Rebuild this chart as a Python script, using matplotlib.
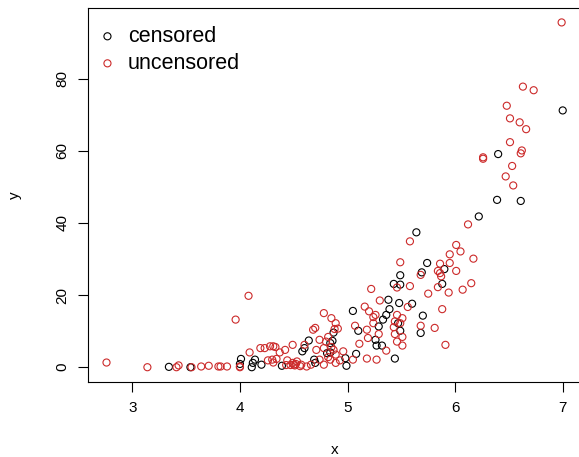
import matplotlib
matplotlib.use("Agg")
import matplotlib.pyplot as plt
import numpy as np

plt.rcParams['font.family'] = ['Liberation Sans', 'DejaVu Sans']

# censored observations (black)
cens_x = [3.34, 3.54, 4.00, 4.01, 4.11, 4.12, 4.14, 4.20, 4.39, 4.58, 4.60, 4.64,
          4.69, 4.70, 4.81, 4.84, 4.87, 4.98, 4.99, 5.05, 5.08, 5.10, 5.26, 5.27,
          5.29, 5.32, 5.33, 5.36, 5.38, 5.39, 5.43, 5.44, 5.47, 5.48, 5.49, 5.49,
          5.49, 5.60, 5.64, 5.68, 5.69, 5.70, 5.74, 5.88, 5.90, 6.22, 6.39, 6.40,
          6.61, 7.00, 4.86, 4.84]
cens_y = [0.1, 0.0, 0.9, 2.3, 0.0, 1.2, 2.1, 0.7, 0.4, 4.4, 5.3, 7.4,
          2.1, 1.2, 3.9, 6.7, 9.6, 2.5, 0.4, 15.6, 3.7, 10.1, 7.6, 6.0,
          11.3, 6.0, 13.2, 14.5, 18.7, 16.1, 23.1, 2.4, 12.2, 17.8, 25.5, 22.9,
          10.1, 17.6, 37.4, 9.5, 26.3, 14.3, 28.9, 23.1, 27.2, 41.8, 46.4, 59.1,
          46.1, 71.2, 7.3, 4.1]

# uncensored observations (red)
unc_x = [2.76, 3.14, 3.41, 3.43, 3.55, 3.64, 3.71, 3.80, 3.82, 3.88, 3.96, 4.00,
         4.00, 4.08, 4.09, 4.19, 4.23, 4.26, 4.28, 4.30, 4.31, 4.31, 4.33, 4.34,
         4.37, 4.42, 4.43, 4.44, 4.47, 4.49, 4.49, 4.50, 4.51, 4.52, 4.53, 4.56,
         4.57, 4.60, 4.62, 4.66, 4.68, 4.70, 4.71, 4.74, 4.74, 4.78, 4.78, 4.78,
         4.80, 4.82, 4.82, 4.84, 4.85, 4.85, 4.87, 4.88, 4.89, 4.89, 4.89, 4.91,
         4.93, 4.96, 5.05, 5.07, 5.11, 5.16, 5.18, 5.18, 5.19, 5.20, 5.22, 5.24,
         5.24, 5.26, 5.27, 5.29, 5.30, 5.36, 5.43, 5.44, 5.44, 5.46, 5.46, 5.46,
         5.49, 5.49, 5.51, 5.51, 5.51, 5.56, 5.58, 5.58, 5.68, 5.68, 5.75, 5.81,
         5.84, 5.84, 5.86, 5.86, 5.87, 5.88, 5.91, 5.94, 5.95, 5.95, 6.01, 6.01,
         6.05, 6.07, 6.12, 6.15, 6.17, 6.26, 6.26, 6.47, 6.48, 6.51, 6.51, 6.53,
         6.54, 6.60, 6.61, 6.62, 6.63, 6.66, 6.73, 6.99]
unc_y = [1.3, 0.0, 0.0, 0.5, 0.0, 0.2, 0.4, 0.2, 0.2, 0.2, 13.2, 0.2,
         0.0, 19.8, 4.1, 5.3, 5.3, 1.9, 5.8, 2.1, 5.8, 1.3, 5.6, 2.3,
         4.1, 4.8, 0.6, 1.9, 0.6, 6.2, 1.2, 0.7, 0.5, 0.9, 1.6, 0.3,
         0.7, 6.2, 0.2, 0.7, 10.4, 10.9, 4.8, 7.6, 2.1, 15.0, 5.3, 0.7,
         7.1, 8.4, 2.8, 2.1, 13.6, 5.6, 4.8, 10.6, 12.2, 3.5, 1.2, 10.7,
         1.9, 4.4, 2.1, 11.5, 6.5, 16.8, 10.4, 2.4, 8.1, 15.5, 21.7, 13.9,
         12.2, 14.5, 2.1, 9.2, 18.5, 4.6, 11.1, 9.2, 12.7, 22.1, 14.5, 7.1,
         12.2, 29.1, 13.6, 8.4, 6.0, 16.7, 34.9, 22.5, 25.6, 11.5, 20.4, 10.9,
         26.7, 22.2, 28.7, 26.1, 25.2, 16.1, 6.2, 20.7, 28.9, 31.3, 33.9, 26.7,
         32.1, 21.5, 39.6, 23.3, 30.1, 57.8, 58.2, 52.9, 72.5, 69.0, 62.4, 55.8,
         50.4, 67.9, 59.3, 60.1, 77.8, 66.0, 76.8, 95.6]

x_ticks = [3, 4, 5, 6, 7]
y_ticks = [0, 20, 40, 60, 80]

fig = plt.figure(figsize=(5.79, 4.57), dpi=100)
ax = fig.add_axes([88/579, 1 - 382/457, 493/579, (382 - 8)/457])

ax.scatter(cens_x, cens_y, s=26, facecolors='none', edgecolors='black',
           linewidths=0.8, label='censored')
ax.scatter(unc_x, unc_y, s=26, facecolors='none', edgecolors='#CC2a2a',
           linewidths=0.8, label='uncensored')

ax.set_xlim(2.588, 7.17)
ax.set_ylim(-4.1, 99.6)
ax.set_xticks(x_ticks)
ax.set_yticks(y_ticks)
ax.tick_params(axis='both', length=7.5, width=0.8, labelsize=11, pad=6)
ax.tick_params(axis='y', labelrotation=90)
for lab in ax.get_yticklabels():
    lab.set_va('center')
for sp in ax.spines.values():
    sp.set_linewidth(0.8)

ax.set_xlabel('x', fontsize=11, labelpad=20)
ax.set_ylabel('y', fontsize=11, labelpad=24)

leg = ax.legend(loc='upper left', bbox_to_anchor=(0.022, 0.952), frameon=False,
                fontsize=15.5, handletextpad=0.55, labelspacing=0.28,
                borderpad=0.0, borderaxespad=0.0, handlelength=0.8,
                scatterpoints=1)

fig.savefig('out.png', dpi=100)
